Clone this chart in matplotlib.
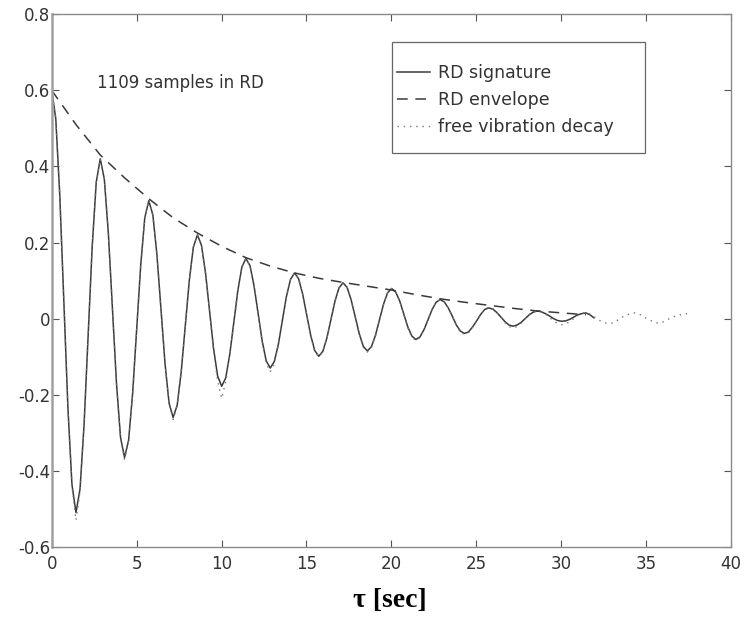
import numpy as np
import matplotlib
matplotlib.use("Agg")
import matplotlib.pyplot as plt
from matplotlib.patches import Rectangle

# sample spacing [s] (12 samples per oscillation period)
DT = 0.2383

# RD signature, one row per half period (extremum first)
rd_signature = [
    0.60, 0.526, 0.323, 0.045, -0.233, -0.436,
    -0.51, -0.448, -0.278, -0.045, 0.188, 0.358,
    0.42, 0.367, 0.224, 0.028, -0.169, -0.312,
    -0.365, -0.32, -0.196, -0.028, 0.141, 0.265,
    0.31, 0.272, 0.168, 0.025, -0.118, -0.222,
    -0.26, -0.228, -0.14, -0.02, 0.10, 0.188,
    0.22, 0.193, 0.121, 0.021, -0.079, -0.151,
    -0.178, -0.156, -0.094, -0.01, 0.074, 0.136,
    0.158, 0.139, 0.086, 0.014, -0.058, -0.111,
    -0.13, -0.113, -0.068, -0.005, 0.058, 0.103,
    0.12, 0.105, 0.065, 0.01, -0.044, -0.084,
    -0.099, -0.086, -0.051, -0.003, 0.046, 0.081,
    0.094, 0.082, 0.049, 0.005, -0.04, -0.073,
    -0.085, -0.074, -0.044, -0.003, 0.038, 0.068,
    0.079, 0.07, 0.046, 0.012, -0.022, -0.046,
    -0.055, -0.048, -0.029, -0.003, 0.024, 0.043,
    0.05, 0.044, 0.028, 0.006, -0.017, -0.033,
    -0.039, -0.035, -0.022, -0.006, 0.011, 0.024,
    0.028, 0.025, 0.016, 0.004, -0.008, -0.017,
    -0.02, -0.017, -0.01, 0.0, 0.01, 0.017,
    0.02, 0.018, 0.013, 0.007, 0.0, -0.005,
    -0.007, -0.006, -0.002, 0.004, 0.01, 0.013,
    0.015, 0.01, 0.002,
]

free_vibration = [
    0.60, 0.526, 0.32, 0.045, -0.235, -0.44,
    -0.53, -0.455, -0.28, -0.045, 0.19, 0.358,
    0.42, 0.367, 0.224, 0.028, -0.169, -0.315,
    -0.37, -0.322, -0.196, -0.028, 0.141, 0.265,
    0.31, 0.272, 0.168, 0.025, -0.118, -0.225,
    -0.265, -0.23, -0.14, -0.02, 0.10, 0.188,
    0.22, 0.193, 0.12, 0.021, -0.085, -0.165,
    -0.21, -0.165, -0.096, -0.01, 0.074, 0.136,
    0.158, 0.139, 0.086, 0.014, -0.06, -0.118,
    -0.14, -0.118, -0.069, -0.005, 0.058, 0.103,
    0.12, 0.105, 0.065, 0.01, -0.046, -0.087,
    -0.10, -0.087, -0.051, -0.003, 0.046, 0.081,
    0.094, 0.082, 0.049, 0.005, -0.042, -0.076,
    -0.088, -0.076, -0.045, -0.003, 0.038, 0.068,
    0.079, 0.07, 0.046, 0.012, -0.024, -0.049,
    -0.058, -0.05, -0.03, -0.002, 0.025, 0.044,
    0.05, 0.044, 0.028, 0.006, -0.019, -0.035,
    -0.042, -0.037, -0.023, -0.005, 0.012, 0.025,
    0.03, 0.026, 0.016, 0.004, -0.01, -0.021,
    -0.025, -0.021, -0.012, 0.0, 0.011, 0.018,
    0.021, 0.018, 0.012, 0.003, -0.006, -0.013,
    -0.016, -0.014, -0.008, 0.0, 0.008, 0.014,
    0.016, 0.012, 0.005, -0.003, -0.008, -0.012,
    -0.013, -0.01, -0.003, 0.004, 0.009, 0.013,
    0.015, 0.013, 0.007, 0.0, -0.005, -0.01,
    -0.012, -0.009, -0.004, 0.002, 0.006, 0.009,
    0.012, 0.013,
]

# envelope sampled every half period
ENV_DT = 1.43
rd_envelope = [
    0.60, 0.51, 0.43, 0.37, 0.315, 0.265, 0.225, 0.19, 0.16, 0.138,
    0.12, 0.106, 0.095, 0.085, 0.075, 0.063, 0.052, 0.043, 0.035,
    0.027, 0.02, 0.015, 0.01,
]

x_ticks = [0, 5, 10, 15, 20, 25, 30, 35, 40]
y_ticks = [-0.6, -0.4, -0.2, 0, 0.2, 0.4, 0.6, 0.8]
y_tick_labels = ['-0.6', '-0.4', '-0.2', '0', '0.2', '0.4', '0.6', '0.8']

plt.rcParams['axes.unicode_minus'] = False

t_sig = np.arange(len(rd_signature)) * DT
t_free = np.arange(len(free_vibration)) * DT
t_env = np.arange(len(rd_envelope)) * ENV_DT

fig = plt.figure(figsize=(7.44, 6.2), dpi=100)
ax = fig.add_axes([0.0695, 0.118, 0.913, 0.859])

line_sig, = ax.plot(t_sig, rd_signature, color='#3a3a3a', lw=1.1,
                    label='RD signature')
line_env, = ax.plot(t_env, rd_envelope, color='#3a3a3a', lw=1.1,
                    dashes=(7, 5), label='RD envelope')
line_free, = ax.plot(t_free, free_vibration, color='#777777', lw=1.0,
                     dashes=(1, 3.5), label='free vibration decay')

ax.set_xlim(0, 40)
ax.set_ylim(-0.6, 0.8)
ax.set_xticks(x_ticks)
ax.set_yticks(y_ticks)
ax.set_yticklabels(y_tick_labels)

for s in ax.spines.values():
    s.set_color('#8a8a8a')
    s.set_linewidth(1.0)
ax.spines['left'].set_linewidth(1.8)
ax.spines['left'].set_color('#a0a0a0')

ax.tick_params(direction='in', length=5, width=0.8, color='#555555',
               top=True, right=True, labelsize=12, labelcolor='#333333')
ax.tick_params(axis='x', pad=6)
ax.tick_params(axis='y', pad=1)

ax.text(2.65, 0.62, '1109 samples in RD', fontsize=12, color='#333333',
        va='center', ha='left')

# legend box drawn separately, entries placed inside it
ax.add_patch(Rectangle((0.501, 0.739), 0.3725, 0.208, transform=ax.transAxes,
                       fill=False, ec='#666666', lw=0.9, zorder=5))
ax.legend(handles=[line_sig, line_env, line_free], loc='upper left',
          bbox_to_anchor=(0.508, 0.907), frameon=False, fontsize=12.5,
          borderpad=0, borderaxespad=0, handlelength=1.9,
          handletextpad=0.45, labelspacing=0.52, labelcolor='#333333')

fig.text(0.524, 0.032, 'τ [sec]', ha='center', va='center',
         fontsize=20, fontweight='bold', family='Liberation Serif')

fig.savefig('out.png', dpi=100)
